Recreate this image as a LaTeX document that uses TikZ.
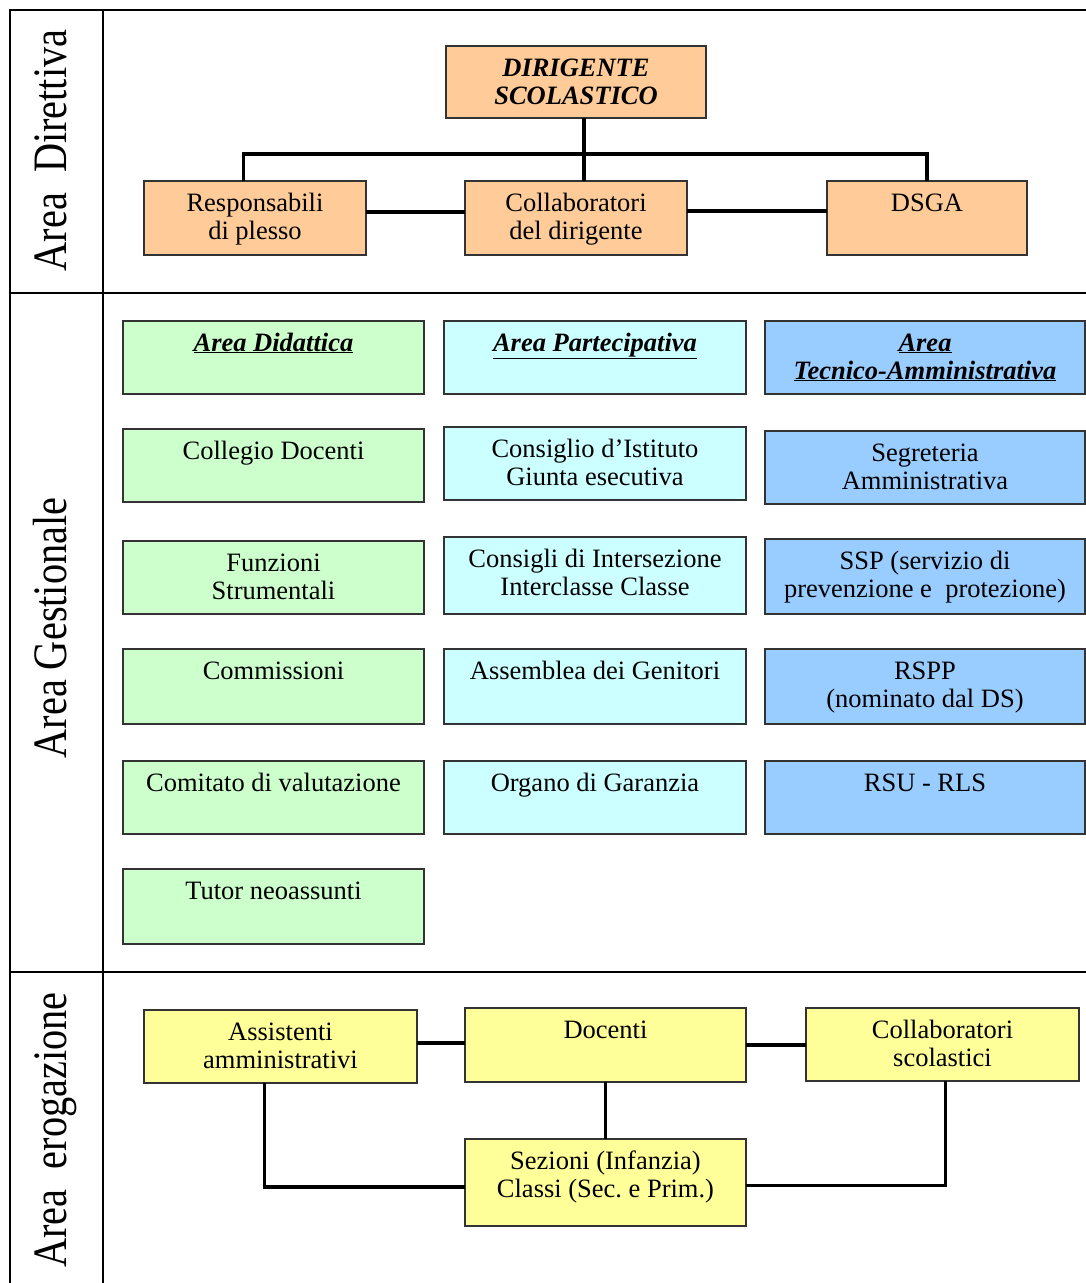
\documentclass[tikz,border=0pt]{standalone}
\usepackage{fontspec}
\setmainfont{Liberation Serif}
\usetikzlibrary{calc}
\frenchspacing
\definecolor{cOr}{HTML}{FFCC99}
\definecolor{cGr}{HTML}{CCFFCC}
\definecolor{cCy}{HTML}{CCFFFF}
\definecolor{cBl}{HTML}{99CCFF}
\definecolor{cYe}{HTML}{FFFF99}
\newcommand\bxt[3]{\parbox[c][#2pt][t]{#1pt}{\centering\frenchspacing\fontsize{26.5}{28}\selectfont\rule{0pt}{30pt}#3\par}}
\newcommand\ttl[1]{\underline{\textbf{\textit{#1}}}}
\tikzset{
  bx/.style={draw=black!80, line width=1.3pt, inner sep=0pt, outer sep=0pt, anchor=north west},
  conn/.style={line width=3.5pt, black},
  tbl/.style={line width=1.2pt, black},
  lbl/.style={rotate=90, anchor=base, inner sep=0pt, font=\fontsize{48}{50}\selectfont}
}
\begin{document}
\begin{tikzpicture}[x=1pt,y=-1pt]
\useasboundingbox (0,0) rectangle (1086,1283);
% table
\draw[tbl] (10,1283) -- (10,10) -- (1086,10);
\draw[tbl] (103,10) -- (103,1283);
\draw[tbl] (10,293) -- (1086,293);
\draw[tbl] (10,972) -- (1086,972);
% side labels
\node[lbl] (l1) at (66,150.5) {\scalebox{0.84}[1]{Area\hspace{0.5em}Direttiva}};
\node[lbl] (l2) at (66,628) {\scalebox{0.84}[1]{Area Gestionale}};
\node[lbl] (l3) at (66,1130) {\scalebox{0.84}[1]{Area\hspace{0.5em}erogazione}};
% Area Direttiva
\node[bx, fill=cOr] (dir) at (446,46) {\bxt{260}{72}{\textbf{\textit{DIRIGENTE\\SCOLASTICO}}}};
\node[bx, fill=cOr] (resp) at (144,181) {\bxt{222}{74}{Responsabili\\di plesso}};
\node[bx, fill=cOr] (coll) at (465,181) {\bxt{222}{74}{Collaboratori\\del dirigente}};
\node[bx, fill=cOr] (dsga) at (827,181) {\bxt{200}{74}{DSGA}};
\draw[conn] ([xshift=-11.5pt]resp.north) -- ++(0,-27) -| (dsga.north);
\draw[conn] ([xshift=8pt]dir.south) -- ([xshift=8pt]coll.north);
\draw[conn] ([yshift=6pt]resp.east) -- ([yshift=6pt]coll.west);
\draw[conn] ([yshift=7pt]coll.east) -- ([yshift=7pt]dsga.west);
% Area Gestionale - col 1
\node[bx, fill=cGr] (g11) at (123,321) {\bxt{301}{73}{\ttl{Area Didattica}}};
\node[bx, fill=cGr] (g12) at (123,429) {\bxt{301}{73}{Collegio Docenti}};
\node[bx, fill=cGr] (g13) at (123,541) {\bxt{301}{73}{Funzioni\\Strumentali}};
\node[bx, fill=cGr] (g14) at (123,649) {\bxt{301}{75}{Commissioni}};
\node[bx, fill=cGr] (g15) at (123,761) {\bxt{301}{73}{Comitato di valutazione}};
\node[bx, fill=cGr] (g16) at (123,869) {\bxt{301}{75}{Tutor neoassunti}};
% col 2
\node[bx, fill=cCy] (g21) at (444,321) {\bxt{302}{73}{\ttl{Area Partecipativa}}};
\node[bx, fill=cCy] (g22) at (444,427) {\bxt{302}{73}{Consiglio d’Istituto\\Giunta esecutiva}};
\node[bx, fill=cCy] (g23) at (444,537) {\bxt{302}{77}{Consigli di Intersezione\\Interclasse Classe}};
\node[bx, fill=cCy] (g24) at (444,649) {\bxt{302}{75}{Assemblea dei Genitori}};
\node[bx, fill=cCy] (g25) at (444,761) {\bxt{302}{73}{Organo di Garanzia}};
% col 3
\node[bx, fill=cBl] (g31) at (765,321) {\bxt{320}{73}{\ttl{Area}\\\ttl{Tecnico-Amministrativa}}};
\node[bx, fill=cBl] (g32) at (765,431) {\bxt{320}{73}{Segreteria\\Amministrativa}};
\node[bx, fill=cBl] (g33) at (765,539) {\bxt{320}{75}{SSP (servizio di\\prevenzione e\ \ protezione)}};
\node[bx, fill=cBl] (g34) at (765,649) {\bxt{320}{75}{RSPP\\(nominato dal DS)}};
\node[bx, fill=cBl] (g35) at (765,761) {\bxt{320}{73}{RSU - RLS}};
% Area erogazione
\node[bx, fill=cYe] (ass) at (144,1010) {\bxt{273}{73}{Assistenti\\amministrativi}};
\node[bx, fill=cYe] (doc) at (465,1008) {\bxt{281}{74}{Docenti}};
\node[bx, fill=cYe] (cs) at (806,1008) {\bxt{273}{73}{Collaboratori\\scolastici}};
\node[bx, fill=cYe] (sez) at (465,1139) {\bxt{281}{87}{Sezioni (Infanzia)\\Classi (Sec. e Prim.)}};
\draw[conn] ([yshift=3.5pt]ass.east) -- ([yshift=3.5pt]ass.east -| doc.west);
\draw[conn] (doc.east) -- (doc.east -| cs.west);
\draw[conn] (doc.south) -- (sez.north);
\draw[conn] ([xshift=-16pt]ass.south) |- ([yshift=-4.5pt]sez.west);
\draw[conn] ([xshift=3pt]cs.south) |- ([yshift=-3pt]sez.east);
\end{tikzpicture}
\end{document}
